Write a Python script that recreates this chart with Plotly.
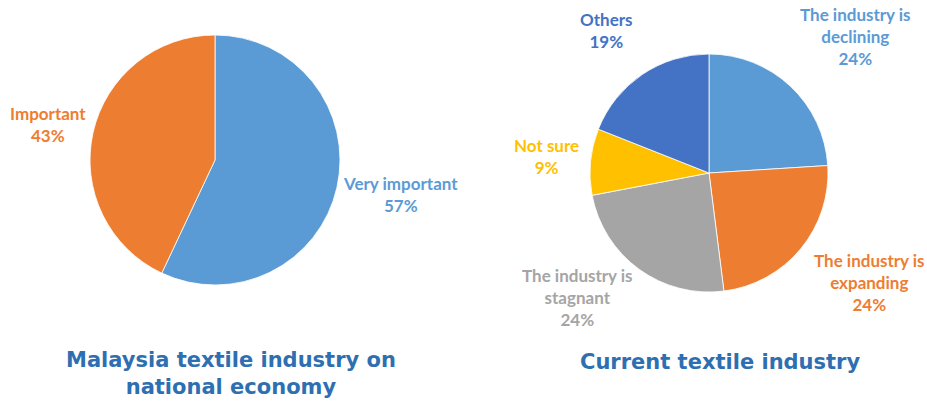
import plotly.graph_objects as go

# Survey results: importance of the textile industry to the national economy
economy_labels = ["Very important", "Important"]
economy_values = [57, 43]

# Survey results: perceived state of the current textile industry
current_labels = ["The industry is\ndeclining", "The industry is\nexpanding",
                  "The industry is\nstagnant", "Not sure", "Others"]
current_values = [24, 24, 24, 9, 19]

economy_colors = ["#5B9BD5", "#ED7D31"]
current_colors = ["#5B9BD5", "#ED7D31", "#A5A5A5", "#FFC000", "#4472C4"]

W, H = 927, 403


def domain(cx, cy, r):
    """Pie domain (paper coords) for a centre and radius given in pixels."""
    return dict(x=[(cx - r) / W, (cx + r) / W],
                y=[(H - cy - r) / H, (H - cy + r) / H])


def px(x, y):
    return dict(x=x / W, y=1 - y / H, xref="paper", yref="paper",
                xanchor="center", yanchor="middle")


fig = go.Figure()

fig.add_trace(go.Pie(
    labels=economy_labels, values=economy_values,
    marker=dict(colors=economy_colors, line=dict(color="white", width=0.8)),
    sort=False, direction="clockwise", rotation=0,
    textinfo="none", hoverinfo="label+percent",
    domain=domain(215, 160, 125), showlegend=False,
))

fig.add_trace(go.Pie(
    labels=[l.replace("\n", " ") for l in current_labels], values=current_values,
    marker=dict(colors=current_colors, line=dict(color="white", width=0.8)),
    sort=False, direction="clockwise", rotation=0,
    textinfo="none", hoverinfo="label+percent",
    domain=domain(709, 173, 119), showlegend=False,
))

label_font = dict(family="Lato, 'Open Sans', sans-serif", size=17)

# Outside data labels: name and percentage in the slice colour
economy_label_pos = [(400, 194), (48, 125)]
for name, val, col, (x, y) in zip(economy_labels, economy_values,
                                  economy_colors, economy_label_pos):
    fig.add_annotation(**px(x, y), text=f"<b>{name}<br>{val}%</b>",
                       showarrow=False, align="center",
                       font=dict(color=col, **label_font))

current_label_pos = [(855, 37), (869, 282), (577, 297), (546, 156), (606, 31)]
for name, val, col, (x, y) in zip(current_labels, current_values,
                                  current_colors, current_label_pos):
    text = name.replace("\n", "<br>")
    fig.add_annotation(**px(x, y), text=f"<b>{text}<br>{val}%</b>",
                       showarrow=False, align="center",
                       font=dict(color=col, **label_font))

title_font = dict(family="'DejaVu Sans', Verdana, sans-serif", size=21,
                  color="#2E6FB2")
fig.add_annotation(**px(231, 373),
                   text="<b>Malaysia textile industry on<br>national economy</b>",
                   showarrow=False, align="center", font=title_font)
fig.add_annotation(**px(720, 362), text="<b>Current textile industry</b>",
                   showarrow=False, align="center", font=title_font)

fig.update_layout(
    width=W, height=H,
    margin=dict(l=0, r=0, t=0, b=0),
    paper_bgcolor="white", plot_bgcolor="white",
)

fig.write_html("out.html")
